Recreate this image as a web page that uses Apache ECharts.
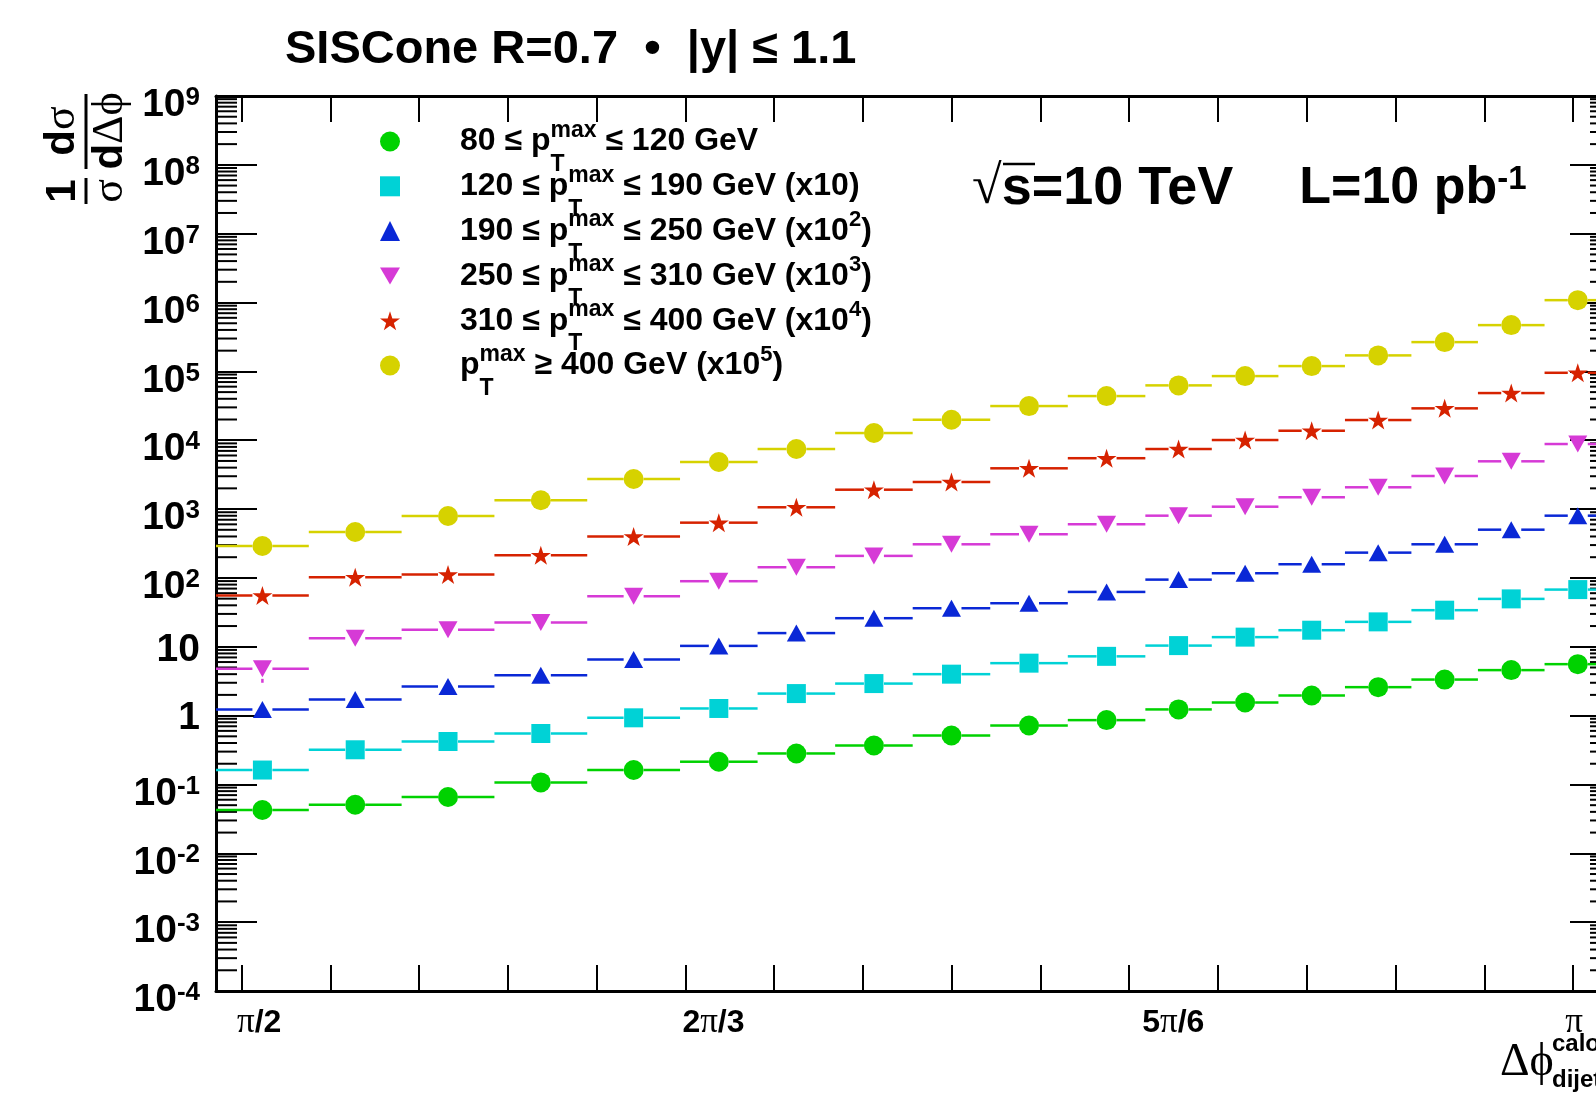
<!DOCTYPE html>
<html>
<head>
<meta charset="utf-8">
<script src="https://cdn.jsdelivr.net/npm/echarts@6/dist/echarts.min.js"></script>
<style>
html,body{margin:0;padding:0;background:#fff;overflow:hidden}
#c{width:1612px;height:1101px}
</style>
</head>
<body>
<div id="c"></div>
<script>
// ---------------- data ----------------
const BIN_EDGES = [1.5405, 1.6500, 1.7595, 1.8690, 1.9785, 2.0880, 2.1795, 2.2710, 2.3625,
                   2.4540, 2.5455, 2.6370, 2.7154, 2.7940, 2.8725, 2.9509, 3.0294, 3.1080, 3.1864];

const PT80  = [0.0425, 0.0507, 0.0657, 0.107, 0.162, 0.214, 0.282, 0.368, 0.514, 0.718, 0.86, 1.23, 1.55, 1.96, 2.59, 3.34, 4.58, 5.59];
const PT120 = [0.162, 0.319, 0.421, 0.55, 0.929, 1.27, 2.09, 2.92, 4.0, 5.78, 7.26, 10.4, 13.8, 17.4, 23.0, 34.0, 49.6, 67.7];
const PT190 = [1.23, 1.71, 2.65, 3.87, 6.52, 10.3, 15.8, 26.0, 36.3, 42.9, 62.6, 94.5, 117, 158, 233, 308, 502, 802];
const PT250 = [4.78, 13.3, 17.6, 22.5, 54.3, 89.6, 143, 209, 308, 431, 602, 802, 1083, 1484, 2072, 3023, 4941, 8809];
const PT310 = [55.4, 102, 112, 214, 398, 635, 1062, 1912, 2474, 3910, 5481, 7455, 10070, 13740, 19650, 29040, 48430, 95430];
const PT400 = [291, 465, 794, 1342, 2735, 4827, 7455, 12720, 19840, 31360, 43800, 62620, 85450, 119400, 170700, 266200, 469900, 1083000];
// lower ends of the vertical error bars that stick out of the markers (null = hidden by marker)
const PT250_LOW = [3.0, null, null, null, null, null, null, null, null, null, null, null, null, null, null, null, null, null];

const SERIES_VALUES = [PT80, PT120, PT190, PT250, PT310, PT400];
const SERIES_LOW = [null, null, null, PT250_LOW, null, null];
const SERIES_NAMES = [
  '80 ≤ pTmax ≤ 120 GeV',
  '120 ≤ pTmax ≤ 190 GeV (x10)',
  '190 ≤ pTmax ≤ 250 GeV (x10^2)',
  '250 ≤ pTmax ≤ 310 GeV (x10^3)',
  '310 ≤ pTmax ≤ 400 GeV (x10^4)',
  'pTmax ≥ 400 GeV (x10^5)'
];
const LEGEND_RICH = [
  '{g| }{t|80 ≤ p}{T|T}{m|max}{t| ≤ 120 GeV}',
  '{g| }{t|120 ≤ p}{T|T}{m|max}{t| ≤ 190 GeV (x10)}',
  '{g| }{t|190 ≤ p}{T|T}{m|max}{t| ≤ 250 GeV (x10}{e|2}{t|)}',
  '{g| }{t|250 ≤ p}{T|T}{m|max}{t| ≤ 310 GeV (x10}{e|3}{t|)}',
  '{g| }{t|310 ≤ p}{T|T}{m|max}{t| ≤ 400 GeV (x10}{e|4}{t|)}',
  '{g| }{t|p}{T|T}{m|max}{t| ≥ 400 GeV (x10}{e|5}{t|)}'
];

const Y_TICKS = [1e-4, 1e-3, 1e-2, 1e-1, 1, 10, 1e2, 1e3, 1e4, 1e5, 1e6, 1e7, 1e8, 1e9];
const X_LABEL_VALUES = [Math.PI / 2, 2 * Math.PI / 3, 5 * Math.PI / 6, Math.PI];
const X_LABEL_TEXT = ['{s0| }{p|π}{n|/2}', '{s1| }{n|2}{p|π}{n|/3}', '{s2| }{n|5}{p|π}{n|/6}', '{s3| }{p|π}'];

// axis helpers (ticks every pi/30, log minor ticks 2..9 per decade)
const X_TICKS = [];
for (let i = 0; i <= 15; i++) X_TICKS.push(Math.PI / 2 + i * Math.PI / 30);
const MINOR_TICKS = [];
for (let e = -4; e < 9; e++) for (let m = 2; m <= 9; m++) MINOR_TICKS.push(m * Math.pow(10, e));

// ---------------- style ----------------
const FONT = '"Liberation Sans", Arial, Helvetica, sans-serif';
const SERIF = '"Liberation Serif", "DejaVu Serif", "Times New Roman", serif';
const COLORS = ['#00d200', '#00d2d6', '#0a28d6', '#d63ad6', '#d62200', '#d6d200'];
const STAR = 'path://M50,0 L61.2,34.5 L97.6,34.5 L68.2,55.9 L79.4,90.5 L50,69.1 L20.6,90.5 L31.8,55.9 L2.4,34.5 L38.8,34.5 Z';
const DOWN_TRI = 'path://M0,0 L20,0 L10,17 Z';
const SYMBOLS = ['circle', 'rect', 'triangle', 'triangle', STAR, 'circle'];
const LEGEND_ICONS = ['circle', 'rect', 'triangle', DOWN_TRI, STAR, 'circle'];
const ROTATE = [0, 0, 0, 180, 0, 0];
const SIZES = [20, 19, [19, 17], [19, 17], [20, 19], 20];
const GAPS = [10, 10, 10, 10, 10, 10];

const X_MIN = BIN_EDGES[0];
const X_MAX = BIN_EDGES[BIN_EDGES.length - 1];

const chart = echarts.init(document.getElementById('c'), null, {renderer: 'canvas'});

const series = [];
// minor log ticks on left and right frame
series.push({
  type: 'custom', silent: true, clip: false, z: 1,
  data: MINOR_TICKS.map(v => [X_MIN, v]),
  encode: {x: 0, y: 1},
  renderItem(params, api) {
    const v = api.value(1);
    const L = api.coord([X_MIN, v]);
    const R = api.coord([X_MAX, v]);
    return {type: 'group', children: [
      {type: 'line', shape: {x1: L[0], y1: L[1], x2: L[0] + 21, y2: L[1]}, style: {stroke: '#000', lineWidth: 2}},
      {type: 'line', shape: {x1: R[0] - 21, y1: R[1], x2: R[0], y2: R[1]}, style: {stroke: '#000', lineWidth: 2}}
    ]};
  }
});

SERIES_VALUES.forEach((vals, i) => {
  const lows = SERIES_LOW[i];
  series.push({
    type: 'custom', name: 'err' + i, silent: true, clip: false, z: 2,
    data: vals.map((v, j) => [BIN_EDGES[j], BIN_EDGES[j + 1], v, lows && lows[j] != null ? lows[j] : v]),
    encode: {x: [0, 1], y: [2, 3]},
    renderItem(params, api) {
      const lo = api.value(0), hi = api.value(1), v = api.value(2), low = api.value(3);
      const a = api.coord([lo, v]);
      const b = api.coord([hi, v]);
      const c = api.coord([(lo + hi) / 2, v]);
      const d = api.coord([(lo + hi) / 2, low]);
      const g = GAPS[i];
      const ch = [
        {type: 'line', shape: {x1: a[0], y1: c[1], x2: c[0] - g, y2: c[1]}, style: {stroke: COLORS[i], lineWidth: 2.5}},
        {type: 'line', shape: {x1: c[0] + g, y1: c[1], x2: b[0], y2: c[1]}, style: {stroke: COLORS[i], lineWidth: 2.5}}
      ];
      if (d[1] > c[1] + g) {
        ch.push({type: 'line', shape: {x1: c[0], y1: c[1] + g, x2: c[0], y2: d[1]}, style: {stroke: COLORS[i], lineWidth: 2.5}});
      }
      return {type: 'group', children: ch};
    }
  });
  series.push({
    type: 'scatter', name: SERIES_NAMES[i], z: 3,
    data: vals.map((v, j) => [(BIN_EDGES[j] + BIN_EDGES[j + 1]) / 2, v]),
    symbol: SYMBOLS[i], symbolSize: SIZES[i], symbolRotate: ROTATE[i],
    itemStyle: {color: COLORS[i], opacity: 1},
    emphasis: {disabled: true}
  });
});

const txt = {fontFamily: FONT, fontWeight: 'bold', color: '#000'};

const option = {
  animation: false,
  backgroundColor: '#fff',
  grid: {left: 216, top: 96, right: 1, bottom: 110, containLabel: false, outerBoundsMode: 'none'},
  xAxis: [{
    type: 'value', min: X_MIN, max: X_MAX, position: 'bottom',
    axisLine: {show: true, onZero: false, lineStyle: {color: '#000', width: 3}},
    axisTick: {show: true, inside: true, length: 26, customValues: X_TICKS, lineStyle: {color: '#000', width: 2}},
    splitLine: {show: false},
    axisLabel: {
      show: true, margin: 15, customValues: X_LABEL_VALUES,
      formatter: v => {
        let k = 0, d = 1e9;
        X_LABEL_VALUES.forEach((x, i) => { if (Math.abs(x - v) < d) { d = Math.abs(x - v); k = i; } });
        return X_LABEL_TEXT[k];
      },
      rich: {
        p: {fontFamily: SERIF, fontSize: 35, color: '#000', lineHeight: 34},
        n: Object.assign({fontSize: 32, lineHeight: 34}, txt),
        s0: {width: 35}, s1: {width: 56}, s2: {width: 88}, s3: {width: 2}
      }
    }
  }, {
    type: 'value', min: X_MIN, max: X_MAX, position: 'top',
    axisLine: {show: true, onZero: false, lineStyle: {color: '#000', width: 3}},
    axisTick: {show: true, inside: true, length: 26, customValues: X_TICKS, lineStyle: {color: '#000', width: 2}},
    splitLine: {show: false},
    axisLabel: {show: false}
  }],
  yAxis: [{
    type: 'log', logBase: 10, min: 1e-4, max: 1e9, position: 'left',
    axisLine: {show: true, onZero: false, lineStyle: {color: '#000', width: 3}},
    axisTick: {show: true, inside: true, length: 41, customValues: Y_TICKS, lineStyle: {color: '#000', width: 2}},
    splitLine: {show: false},
    axisLabel: {
      show: true, margin: 16, customValues: Y_TICKS,
      formatter: v => {
        const e = Math.round(Math.log10(v));
        if (e === 0) return '{p|1}';
        if (e === 1) return '{p|10}';
        return '{b|10}{s|' + e + '}';
      },
      rich: {
        p: Object.assign({fontSize: 39, lineHeight: 40, padding: [6, 0, 0, 0]}, txt),
        b: Object.assign({fontSize: 39, lineHeight: 40, padding: [19, 0, 0, 0]}, txt),
        s: Object.assign({fontSize: 26, lineHeight: 40, verticalAlign: 'top', padding: [9, 0, 0, 0]}, txt)
      }
    }
  }, {
    type: 'log', logBase: 10, min: 1e-4, max: 1e9, position: 'right',
    axisLine: {show: true, onZero: false, lineStyle: {color: '#000', width: 3}},
    axisTick: {show: true, inside: true, length: 41, customValues: Y_TICKS, lineStyle: {color: '#000', width: 2}},
    splitLine: {show: false},
    axisLabel: {show: false}
  }],
  legend: {
    orient: 'vertical', left: 375, top: 102, padding: 5,
    itemWidth: 20, itemHeight: 20, itemGap: -24.2,
    selectedMode: false,
    data: SERIES_NAMES.map((n, i) => ({name: n, icon: LEGEND_ICONS[i]})),
    formatter: name => LEGEND_RICH[SERIES_NAMES.indexOf(name)],
    textStyle: {
      rich: {
        g: {width: 55},
        t: Object.assign({fontSize: 32, lineHeight: 30}, txt),
        T: Object.assign({fontSize: 23, lineHeight: 30, width: 0, padding: [46, 0, 0, 0]}, txt),
        m: Object.assign({fontSize: 23, lineHeight: 30, padding: [0, 0, 22, 0]}, txt),
        e: Object.assign({fontSize: 22, lineHeight: 30, padding: [0, 0, 22, 0]}, txt)
      }
    }
  },
  graphic: [
    { // title
      type: 'text', left: 285, top: 27, silent: true,
      style: {text: 'SISCone R=0.7  •  |y| ≤ 1.1', font: 'bold 47px ' + FONT, fill: '#000'}
    },
    { // sqrt(s) and luminosity
      type: 'text', x: 972, y: 163, silent: true,
      style: {
        text: '{r|√}{s|s=10 TeV}{g| }{l|L=10 pb}{u|-1}',
        rich: {
          r: {fontFamily: SERIF, fontSize: 54, color: '#000', lineHeight: 52},
          s: {fontFamily: FONT, fontWeight: 'bold', fontSize: 54, color: '#000', lineHeight: 52},
          g: {width: 66},
          l: {fontFamily: FONT, fontWeight: 'bold', fontSize: 52, color: '#000', lineHeight: 52},
          u: {fontFamily: FONT, fontWeight: 'bold', fontSize: 33, color: '#000', lineHeight: 52, verticalAlign: 'top'}
        }
      }
    },
    { // overline of sqrt
      type: 'line', silent: true,
      shape: {x1: 1003, y1: 164, x2: 1035, y2: 164},
      style: {stroke: '#000', lineWidth: 2.5}
    },
    { // x-axis title
      type: 'text', x: 1500, y: 1040, silent: true,
      style: {text: 'Δϕ', font: '46px ' + SERIF, fill: '#000'}
    },
    {
      type: 'text', x: 1552, y: 1032, silent: true,
      style: {text: 'calo', font: 'bold 24px ' + FONT, fill: '#000'}
    },
    {
      type: 'text', x: 1552, y: 1068, silent: true,
      style: {text: 'dijet', font: 'bold 24px ' + FONT, fill: '#000'}
    },
    { // y-axis title (rotated fraction)
      type: 'group', x: 86, y: 149, rotation: Math.PI / 2, silent: true,
      children: [
        {type: 'rect', shape: {x: -55, y: -1.5, width: 26, height: 3}, style: {fill: '#000'}},
        {type: 'text', x: -42, y: -2, style: {text: '1', font: 'bold 42px ' + FONT, fill: '#000', align: 'center', verticalAlign: 'bottom', textAlign: 'center', textVerticalAlign: 'bottom'}},
        {type: 'text', x: -42, y: 2, style: {text: 'σ', font: '44px ' + SERIF, fill: '#000', align: 'center', verticalAlign: 'top', textAlign: 'center', textVerticalAlign: 'top'}},
        {type: 'rect', shape: {x: -20, y: -1.5, width: 75, height: 3}, style: {fill: '#000'}},
        {type: 'text', x: 18, y: -2, style: {
          text: '{a|d}{b|σ}', align: 'center', verticalAlign: 'bottom', textAlign: 'center', textVerticalAlign: 'bottom',
          rich: {a: {fontFamily: FONT, fontWeight: 'bold', fontSize: 42, color: '#000'}, b: {fontFamily: SERIF, fontSize: 44, color: '#000'}}
        }},
        {type: 'text', x: 18, y: 2, style: {
          text: '{a|d}{b|Δϕ}', align: 'center', verticalAlign: 'top', textAlign: 'center', textVerticalAlign: 'top',
          rich: {a: {fontFamily: FONT, fontWeight: 'bold', fontSize: 42, color: '#000'}, b: {fontFamily: SERIF, fontSize: 44, color: '#000'}}
        }}
      ]
    }
  ],
  series: series
};

chart.setOption(option);
</script>
</body>
</html>
